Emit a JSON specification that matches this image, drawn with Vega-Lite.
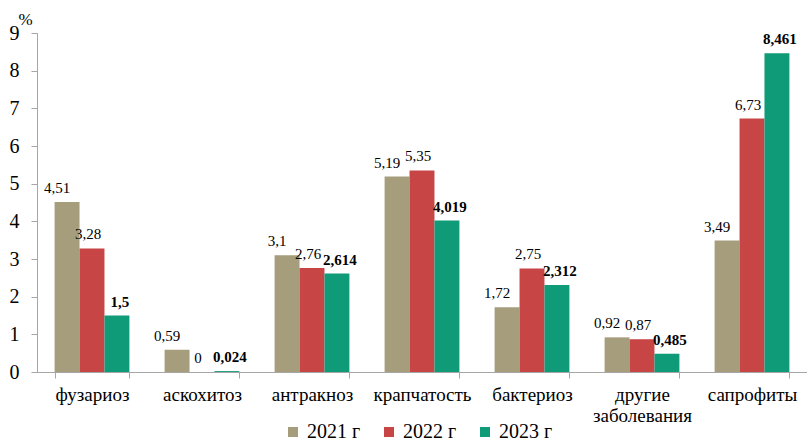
{
  "$schema": "https://vega.github.io/schema/vega-lite/v6.json",
  "width": 770,
  "height": 339,
  "autosize": {"type": "none"},
  "padding": {"left": 37, "top": 33, "right": 0, "bottom": 69},
  "config": {
    "view": {"stroke": null},
    "font": "Liberation Serif",
    "style": {
      "guide-label": {"font": "Liberation Serif", "fill": "#000"},
      "guide-title": {"font": "Liberation Serif", "fill": "#000"}
    },
    "axis": {"labelFont": "Liberation Serif", "titleFont": "Liberation Serif", "labelColor": "#000", "titleColor": "#000", "domainColor": "#a6a6a6", "tickColor": "#a6a6a6", "grid": false},
    "legend": {"labelFont": "Liberation Serif", "labelColor": "#000"},
    "text": {"font": "Liberation Serif", "color": "#000"}
  },
  "data": {
    "values": [
      {"disease": "фузариоз", "year": "2021 г", "value": 4.51},
      {"disease": "фузариоз", "year": "2022 г", "value": 3.28},
      {"disease": "фузариоз", "year": "2023 г", "value": 1.5},
      {"disease": "аскохитоз", "year": "2021 г", "value": 0.59},
      {"disease": "аскохитоз", "year": "2022 г", "value": 0},
      {"disease": "аскохитоз", "year": "2023 г", "value": 0.024},
      {"disease": "антракноз", "year": "2021 г", "value": 3.1},
      {"disease": "антракноз", "year": "2022 г", "value": 2.76},
      {"disease": "антракноз", "year": "2023 г", "value": 2.614},
      {"disease": "крапчатость", "year": "2021 г", "value": 5.19},
      {"disease": "крапчатость", "year": "2022 г", "value": 5.35},
      {"disease": "крапчатость", "year": "2023 г", "value": 4.019},
      {"disease": "бактериоз", "year": "2021 г", "value": 1.72},
      {"disease": "бактериоз", "year": "2022 г", "value": 2.75},
      {"disease": "бактериоз", "year": "2023 г", "value": 2.312},
      {"disease": "другие заболевания", "year": "2021 г", "value": 0.92},
      {"disease": "другие заболевания", "year": "2022 г", "value": 0.87},
      {"disease": "другие заболевания", "year": "2023 г", "value": 0.485},
      {"disease": "сапрофиты", "year": "2021 г", "value": 3.49},
      {"disease": "сапрофиты", "year": "2022 г", "value": 6.73},
      {"disease": "сапрофиты", "year": "2023 г", "value": 8.461}
    ]
  },
  "encoding": {
    "x": {
      "field": "disease",
      "type": "nominal",
      "sort": ["фузариоз", "аскохитоз", "антракноз", "крапчатость", "бактериоз", "другие заболевания", "сапрофиты"],
      "scale": {"paddingInner": 0.32, "paddingOuter": 0.16},
      "axis": {
        "title": null,
        "labelFont": "Liberation Serif",
        "labelAngle": 0,
        "labelFontSize": 19,
        "labelPadding": 7,
        "tickSize": 6,
        "tickBand": "extent",
        "labelLineHeight": 21,
        "labelExpr": "datum.label == 'другие заболевания' ? ['другие', 'заболевания'] : datum.label",
        "encode": {"labels": {"update": {"font": {"value": "Liberation Serif"}}}}
      }
    },
    "xOffset": {
      "field": "year",
      "type": "nominal",
      "sort": ["2021 г", "2022 г", "2023 г"],
      "scale": {"paddingInner": 0, "paddingOuter": 0}
    },
    "y": {
      "field": "value",
      "type": "quantitative",
      "scale": {"domain": [0, 9], "nice": false},
      "axis": {
        "values": [0, 1, 2, 3, 4, 5, 6, 7, 8, 9],
        "labelFont": "Liberation Serif",
        "labelFontSize": 20,
        "labelPadding": 12,
        "tickSize": 6,
        "title": "%",
        "titleFont": "Liberation Serif",
        "titleAngle": 0,
        "titleFontSize": 17,
        "titleFontWeight": "normal",
        "titleX": -12,
        "titleY": -14,
        "titleAlign": "center",
        "titleBaseline": "middle",
        "encode": {"labels": {"update": {"font": {"value": "Liberation Serif"}}}}
      }
    }
  },
  "layer": [
    {
      "mark": {"type": "bar"},
      "encoding": {
        "color": {
          "field": "year",
          "type": "nominal",
          "scale": {"domain": ["2021 г", "2022 г", "2023 г"], "range": ["#a69d7c", "#c84545", "#0f9a78"]},
          "legend": {
            "title": null,
            "orient": "none",
            "legendX": 246,
            "legendY": 389,
            "direction": "horizontal",
            "symbolType": "square",
            "symbolSize": 100,
            "labelFont": "Liberation Serif",
            "labelFontSize": 20,
            "labelOffset": 4,
            "columnPadding": 18,
            "encode": {"labels": {"update": {"font": {"value": "Liberation Serif"}}}}
          }
        }
      }
    },
    {
      "transform": [
        {"filter": "datum.year == '2021 г'"},
        {"calculate": "replace(toString(datum.value), '.', ',')", "as": "label"}
      ],
      "mark": {"type": "text", "baseline": "bottom", "dy": -6, "dx": -10, "fontSize": 15},
      "encoding": {"text": {"field": "label", "type": "nominal"}}
    },
    {
      "transform": [
        {"filter": "datum.year == '2022 г'"},
        {"calculate": "replace(toString(datum.value), '.', ',')", "as": "label"}
      ],
      "mark": {"type": "text", "baseline": "bottom", "dy": -6, "dx": -4, "fontSize": 15},
      "encoding": {"text": {"field": "label", "type": "nominal"}}
    },
    {
      "transform": [
        {"filter": "datum.year == '2023 г'"},
        {"calculate": "replace(toString(datum.value), '.', ',')", "as": "label"}
      ],
      "mark": {"type": "text", "baseline": "bottom", "dy": -6, "dx": 3, "fontSize": 15, "fontWeight": "bold"},
      "encoding": {"text": {"field": "label", "type": "nominal"}}
    }
  ]
}
